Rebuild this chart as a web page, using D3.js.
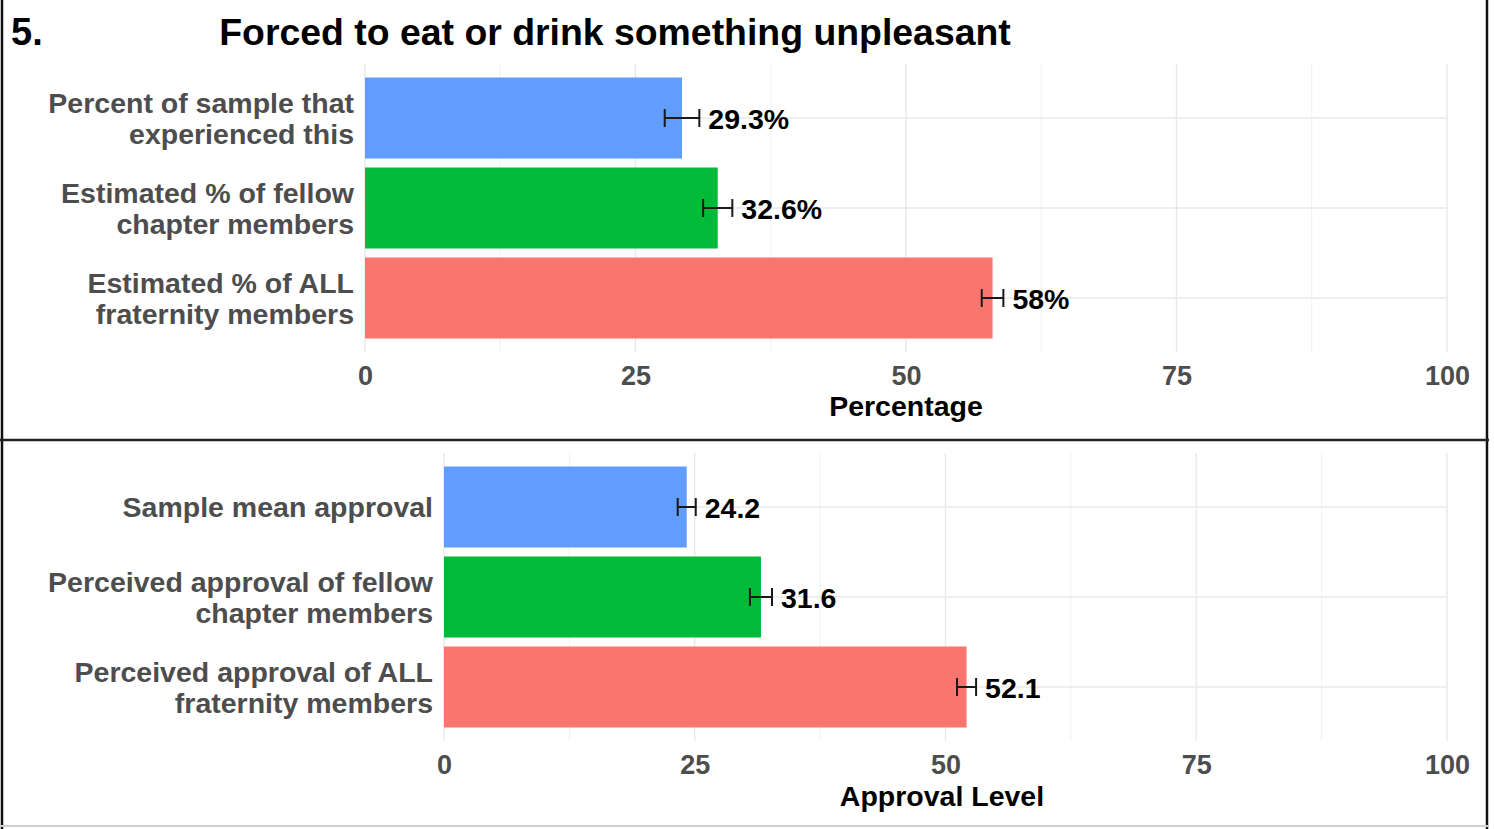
<!DOCTYPE html>
<html>
<head>
<meta charset="utf-8">
<script src="https://cdn.jsdelivr.net/npm/d3@7"></script>
<style>
  html, body { margin: 0; padding: 0; background: #fff; }
  svg { display: block; }
  text { font-family: "Liberation Sans", Arial, sans-serif; font-weight: bold; }
</style>
</head>
<body>
<svg id="chart" width="1494" height="829"></svg>
<script>
// Panel 1: prevalence estimates
const topCategories = [
  ["Percent of sample that", "experienced this"],
  ["Estimated % of fellow", "chapter members"],
  ["Estimated % of ALL", "fraternity members"]
];
const topValues = [29.3, 32.6, 58];
const topErrors = [1.6, 1.35, 1.0];
const topLabels = ["29.3%", "32.6%", "58%"];

// Panel 2: approval levels
const bottomCategories = [
  ["Sample mean approval"],
  ["Perceived approval of fellow", "chapter members"],
  ["Perceived approval of ALL", "fraternity members"]
];
const bottomValues = [24.2, 31.6, 52.1];
const bottomErrors = [0.9, 1.1, 0.95];
const bottomLabels = ["24.2", "31.6", "52.1"];

const barColors = ["#619CFF", "#00BA38", "#F8766D"];
const xTicks = [0, 25, 50, 75, 100];
const xMinorTicks = [12.5, 37.5, 62.5, 87.5];

const svg = d3.select("#chart");

function drawPanel(cfg) {
  const g = svg.append("g");
  const x = d3.scaleLinear().domain([0, 100]).range([cfg.left, cfg.right]);
  const y = d3.scalePoint().domain(d3.range(cfg.categories.length))
    .range([cfg.top, cfg.bottom]).padding(0.6);
  const step = y.step();
  const barH = step * 0.9;

  // grid
  g.selectAll(".minor").data(xMinorTicks).join("line")
    .attr("x1", d => x(d)).attr("x2", d => x(d))
    .attr("y1", cfg.top).attr("y2", cfg.bottom)
    .attr("stroke", "#f1f1f1").attr("stroke-width", 1);
  g.selectAll(".major").data(xTicks).join("line")
    .attr("x1", d => x(d)).attr("x2", d => x(d))
    .attr("y1", cfg.top).attr("y2", cfg.bottom)
    .attr("stroke", "#e8e8e8").attr("stroke-width", 1.4);
  g.selectAll(".hgrid").data(d3.range(cfg.categories.length)).join("line")
    .attr("x1", cfg.left).attr("x2", cfg.right)
    .attr("y1", d => y(d)).attr("y2", d => y(d))
    .attr("stroke", "#e8e8e8").attr("stroke-width", 1.4);

  // bars
  g.selectAll(".bar").data(cfg.values).join("rect")
    .attr("x", x(0))
    .attr("y", (d, i) => y(i) - barH / 2)
    .attr("width", d => x(d) - x(0))
    .attr("height", barH)
    .attr("fill", (d, i) => barColors[i]);

  // error bars and value labels
  const capH = step * 0.2;
  cfg.values.forEach((v, i) => {
    const lo = x(v - cfg.errors[i]), hi = x(v + cfg.errors[i]), cy = y(i);
    const eg = g.append("g").attr("stroke", "#1a1a1a").attr("stroke-width", 2);
    eg.append("line").attr("x1", lo).attr("x2", hi).attr("y1", cy).attr("y2", cy);
    eg.append("line").attr("x1", lo).attr("x2", lo).attr("y1", cy - capH / 2).attr("y2", cy + capH / 2);
    eg.append("line").attr("x1", hi).attr("x2", hi).attr("y1", cy - capH / 2).attr("y2", cy + capH / 2);
    g.append("text")
      .attr("x", hi + 9).attr("y", cy + 1)
      .attr("dominant-baseline", "central")
      .attr("font-size", 28.5).attr("fill", "#000")
      .text(cfg.labels[i]);
  });

  // category labels
  cfg.categories.forEach((lines, i) => {
    const t = g.append("text")
      .attr("text-anchor", "end")
      .attr("font-size", 28.5).attr("fill", "#4d4d4d");
    const n = lines.length;
    lines.forEach((ln, k) => {
      t.append("tspan")
        .attr("x", cfg.left - 11)
        .attr("y", y(i) + (k - (n - 1) / 2) * 31)
        .attr("dominant-baseline", "central")
        .text(ln);
    });
  });

  // x axis
  const axis = d3.axisBottom(x).tickValues(xTicks).tickSize(0).tickPadding(0);
  const ag = g.append("g").attr("transform", `translate(0,${cfg.tickY})`).call(axis);
  ag.select(".domain").remove();
  ag.selectAll("text")
    .attr("dy", null).attr("y", 0)
    .attr("dominant-baseline", "central")
    .attr("font-size", 27).attr("fill", "#4d4d4d")
    .attr("font-family", "Liberation Sans, Arial, sans-serif").attr("font-weight", "bold");

  g.append("text")
    .attr("x", cfg.titleX).attr("y", cfg.titleY)
    .attr("text-anchor", "middle").attr("dominant-baseline", "central")
    .attr("font-size", 28.5).attr("fill", "#000")
    .text(cfg.axisTitle);
}

drawPanel({
  categories: topCategories, values: topValues, errors: topErrors, labels: topLabels,
  left: 365, right: 1447, top: 64, bottom: 352, tickY: 376, titleX: 906, titleY: 406,
  axisTitle: "Percentage"
});

drawPanel({
  categories: bottomCategories, values: bottomValues, errors: bottomErrors, labels: bottomLabels,
  left: 444, right: 1447, top: 453, bottom: 741, tickY: 765, titleX: 942, titleY: 796,
  axisTitle: "Approval Level"
});

// heading
svg.append("text")
  .attr("x", 11).attr("y", 45)
  .attr("font-family", "'Open Sans', sans-serif").attr("font-weight", 800)
  .attr("font-size", 38).attr("fill", "#000")
  .text("5.");
svg.append("text")
  .attr("x", 615).attr("y", 45)
  .attr("text-anchor", "middle")
  .attr("font-size", 37.4).attr("fill", "#000")
  .text("Forced to eat or drink something unpleasant");

// frame and divider
svg.append("line").attr("x1", 2).attr("x2", 2).attr("y1", 0).attr("y2", 829)
  .attr("stroke", "#111").attr("stroke-width", 2.5);
svg.append("line").attr("x1", 1487).attr("x2", 1487).attr("y1", 0).attr("y2", 829)
  .attr("stroke", "#111").attr("stroke-width", 2.5);
svg.append("line").attr("x1", 0).attr("x2", 1489).attr("y1", 440).attr("y2", 440)
  .attr("stroke", "#222").attr("stroke-width", 2.5);
svg.append("line").attr("x1", 0).attr("x2", 1489).attr("y1", 826).attr("y2", 826)
  .attr("stroke", "#cfcfcf").attr("stroke-width", 2);
</script>
</body>
</html>
